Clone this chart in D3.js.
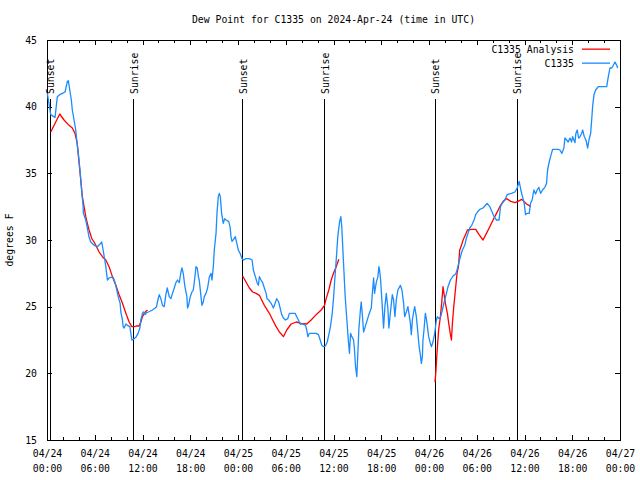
<!DOCTYPE html>
<html><head><meta charset="utf-8">
<script src="https://cdn.jsdelivr.net/npm/d3@7"></script>
<style>
body{margin:0;background:#fff;}
text{font-family:"DejaVu Sans Mono","Liberation Mono",monospace;font-size:9.8px;fill:#000;}
</style></head>
<body><svg id="c" width="640" height="480"></svg>
<script>
// ---- data (hours after 2024-04-24 00:00 UTC, dew point °F) ----
const title = "Dew Point for C1335 on 2024-Apr-24 (time in UTC)";
const yLabel = "degrees F";
const seriesNames = ["C1335 Analysis", "C1335"];
const yTicks = [15,20,25,30,35,40,45];
const sunsetHours = [0.42, 24.58, 48.78];
const sunriseHours = [10.91, 34.88, 59.08];

const blueHours = [0.04,0.47,1.01,1.30,1.60,1.93,2.27,2.56,2.68,2.90,3.06,3.18,3.40,3.61,3.74,3.94,4.07,4.24,4.37,4.53,4.57,4.87,5.07,5.29,5.50,5.92,6.33,6.76,6.88,7.05,7.26,7.39,7.51,7.59,7.80,8.02,8.31,8.56,8.77,8.97,9.19,9.28,9.48,9.57,9.69,9.91,10.11,10.41,10.54,10.66,10.86,11.16,11.45,11.67,11.79,12.00,12.12,12.34,12.50,12.75,13.25,13.59,13.76,13.93,14.10,14.31,14.51,14.73,14.94,15.11,15.36,15.57,15.77,15.99,16.20,16.40,16.62,16.83,16.96,17.12,17.33,17.58,17.66,17.79,18.00,18.21,18.38,18.54,18.72,18.88,19.04,19.13,19.35,19.47,19.64,19.76,19.98,20.18,20.39,20.61,20.73,20.90,21.02,21.24,21.36,21.52,21.65,21.78,21.94,22.15,22.32,22.49,22.82,23.00,23.12,23.25,23.45,23.66,23.83,24.04,24.26,24.51,24.71,25.01,25.43,25.77,25.93,26.18,26.40,26.56,26.69,26.90,27.10,27.31,27.53,27.65,27.86,28.16,28.45,28.66,28.86,29.11,29.29,29.49,29.71,29.96,30.25,30.46,30.80,31.18,31.38,31.59,31.81,32.14,32.48,32.64,32.77,32.98,33.39,33.82,34.11,34.33,34.53,34.74,34.99,35.21,35.41,35.62,35.84,36.00,36.16,36.34,36.54,36.76,36.92,37.04,37.26,37.47,37.68,37.89,38.01,38.14,38.30,38.52,38.64,38.77,38.93,39.06,39.18,39.36,39.48,39.61,39.78,39.99,40.19,40.44,40.75,40.87,41.04,41.16,41.37,41.58,41.70,41.79,41.92,42.13,42.29,42.46,42.63,42.83,42.96,43.14,43.39,43.55,43.72,43.89,44.09,44.40,44.60,44.81,44.94,45.15,45.35,45.48,45.66,45.78,45.91,46.07,46.20,46.41,46.61,46.74,46.91,47.04,47.17,47.24,47.37,47.54,47.67,47.80,47.96,48.17,48.30,48.50,48.71,48.80,48.93,49.05,49.25,49.47,49.68,49.97,50.19,50.39,50.69,51.02,51.36,51.52,51.73,51.95,52.20,52.49,52.70,52.90,53.12,53.37,53.66,53.87,54.09,54.38,54.79,55.01,55.30,55.64,55.93,56.18,56.48,56.81,56.98,57.19,57.53,57.82,58.37,58.79,59.08,59.33,59.54,59.75,59.96,60.13,60.33,60.59,60.76,60.96,61.18,61.39,61.59,61.80,62.02,62.27,62.56,62.77,62.90,63.10,63.32,63.53,63.82,64.23,64.45,64.70,64.95,65.08,65.29,65.49,65.71,65.92,66.05,66.21,66.34,66.46,66.63,66.80,66.97,67.18,67.31,67.51,67.72,67.94,68.10,68.31,68.44,68.56,68.73,68.94,69.27,69.90,70.33,70.53,70.74,70.95,71.16,71.37,71.59,71.71];
const blueValues = [41.0,39.4,39.2,40.75,40.9,41.0,41.1,41.9,41.95,41.1,40.5,39.75,39.0,38.25,37.5,36.5,35.7,34.6,33.6,32.6,32.0,31.5,30.9,30.2,29.85,29.6,29.5,29.75,29.85,29.25,28.5,28.0,27.4,27.0,27.15,27.2,27.2,26.8,26.25,25.7,25.25,24.6,24.0,23.5,23.4,23.7,23.6,23.5,23.0,22.5,22.55,22.7,23.0,23.4,24.0,24.5,24.6,24.4,24.55,24.6,24.75,24.9,25.0,25.5,25.9,25.6,25.1,25.0,25.9,26.4,25.75,25.6,26.0,26.4,26.8,27.0,26.8,27.6,27.9,27.5,26.5,25.75,24.9,25.1,25.75,26.1,26.25,27.0,28.0,27.9,27.2,27.0,25.75,25.1,25.35,25.75,26.0,26.4,27.2,27.5,27.0,28.0,29.25,30.5,32.0,33.25,33.5,33.25,32.0,31.25,31.6,31.5,31.4,31.0,30.25,29.9,30.05,30.25,29.8,29.25,29.0,28.6,28.5,28.6,28.6,28.5,27.75,27.25,26.8,26.6,27.25,27.0,26.8,26.4,26.0,25.6,25.5,25.25,24.9,25.25,25.6,25.35,24.9,24.4,24.15,24.0,24.1,24.5,24.5,24.5,24.25,24.0,23.7,23.7,23.6,23.25,22.75,23.0,23.0,23.0,22.9,22.5,22.1,22.0,22.05,22.35,22.9,23.5,24.5,25.6,27.0,28.5,30.25,31.35,31.75,31.0,28.25,25.75,24.0,22.25,21.5,23.0,22.75,22.5,21.75,20.5,19.75,21.5,23.25,24.6,25.35,24.5,23.1,23.5,23.9,24.4,24.9,25.9,27.15,26.0,26.8,27.25,28.0,27.75,27.0,25.0,23.4,25.0,26.0,24.9,23.4,24.5,25.9,25.5,24.25,25.5,26.25,26.6,26.25,25.25,24.25,24.6,25.0,24.5,23.75,22.9,24.0,24.6,25.0,24.25,23.0,22.1,21.4,20.75,21.25,22.5,23.25,24.5,24.1,23.5,22.75,22.25,22.0,22.35,23.0,23.4,24.0,24.25,24.1,24.25,24.75,25.5,26.0,26.5,27.0,27.3,27.45,27.75,28.25,28.75,29.25,29.6,30.15,30.5,30.9,31.1,31.5,31.9,32.1,32.3,32.4,32.55,32.75,32.5,32.1,31.75,31.5,31.5,32.5,32.75,33.0,33.4,33.5,33.6,33.9,34.4,33.75,33.25,32.75,31.9,32.0,32.0,32.75,33.0,33.75,33.45,33.75,33.95,33.5,33.75,33.95,34.25,35.25,35.85,36.35,36.8,36.8,36.8,36.75,36.5,36.9,37.65,37.5,37.35,37.65,37.35,37.75,37.5,37.3,38.0,38.25,37.65,37.75,38.0,38.25,37.75,37.5,36.9,37.5,38.0,39.0,40.0,40.9,41.25,41.5,41.5,41.5,42.25,42.9,42.9,43.1,43.35,43.1,42.9];

const red1Hours = [0.47,1.60,2.14,2.77,3.18,3.52,3.78,4.03,4.24,4.44,4.66,4.87,5.07,5.29,5.63,5.92,6.13,6.55,6.96,7.39,7.80,8.22,8.65,9.06,9.48,9.91,10.32,10.66,10.95,11.24,11.58,11.79,12.00,12.34,12.63];
const red1Values = [38.1,39.45,39.0,38.6,38.4,38.0,37.3,35.8,34.5,33.25,32.5,31.75,31.25,30.75,30.1,29.85,29.6,29.1,28.75,28.5,28.0,27.25,26.6,25.9,25.25,24.5,23.85,23.5,23.5,23.55,23.55,23.85,24.25,24.6,24.75];
const red2Hours = [24.58,25.01,25.43,25.84,26.27,26.69,26.90,27.31,27.94,28.36,28.79,29.20,29.71,30.12,30.68,31.31,31.93,32.64,33.19,33.82,34.45,34.87,35.08,35.41,35.71,36.00,36.34,36.67];
const red2Values = [27.3,26.85,26.4,26.1,26.0,25.85,25.6,25.1,24.5,24.0,23.5,23.1,22.75,23.25,23.7,23.85,23.75,23.7,24.0,24.4,24.75,25.1,25.6,26.25,27.0,27.5,28.0,28.55];
const red3Hours = [48.75,48.84,49.00,49.21,49.43,49.59,49.76,49.88,50.06,50.31,50.48,50.69,50.82,50.94,51.11,51.32,51.52,51.70,51.86,52.08,52.28,52.58,52.83,53.33,53.87,54.29,54.79,55.22,55.64,56.05,56.48,56.90,57.32,57.74,58.28,58.79,59.20,59.63,59.92,60.25,60.55,60.76];
const red3Values = [19.35,19.9,21.5,23.25,24.25,25.25,26.5,26.0,25.25,24.5,23.75,22.9,22.5,23.75,25.0,26.25,27.5,28.0,29.25,29.6,30.0,30.4,30.75,30.8,30.8,30.4,30.0,30.5,31.0,31.5,32.0,32.5,32.9,33.1,32.9,32.8,32.9,33.05,32.9,32.7,32.6,32.5];

// ---- layout ----
const svg = d3.select("#c");
const L = 47, R = 620, T = 40, B = 440;
const t0 = Date.UTC(2024, 3, 24);
const toDate = h => new Date(t0 + h * 3600000);
const x = d3.scaleUtc().domain([toDate(0), toDate(72)]).range([L, R]);
const y = d3.scaleLinear().domain([15, 45]).range([B, T]);
const red = "#ff0000", blue = "#1a8cff";
const LW = 1.3;

svg.append("text").attr("x", (L + R) / 2).attr("y", 23).attr("text-anchor", "middle").text(title);
svg.append("text").attr("transform", `translate(13,${(T + B) / 2}) rotate(-90)`).attr("text-anchor", "middle").text(yLabel);

// axes
const fmtD = d3.utcFormat("%m/%d"), fmtT = d3.utcFormat("%H:%M");
const major = d3.utcHour.every(6).range(toDate(0), toDate(72.01));
const minor = d3.utcHour.every(2).range(toDate(0), toDate(72.01));

function strip(g){ g.select(".domain").remove(); g.selectAll(".tick line").attr("stroke","#000").attr("shape-rendering","crispEdges"); }

svg.append("g").attr("transform", `translate(0,${B})`)
  .call(d3.axisBottom(x).tickValues(minor).tickSize(-3).tickFormat("")).call(strip);
svg.append("g").attr("transform", `translate(0,${T})`)
  .call(d3.axisTop(x).tickValues(minor).tickSize(-3).tickFormat("")).call(strip);
const gx = svg.append("g").attr("transform", `translate(0,${B})`)
  .call(d3.axisBottom(x).tickValues(major).tickSize(-5).tickFormat(d => fmtD(d))).call(strip);
gx.selectAll(".tick text").each(function(d){
  const t = d3.select(this);
  t.text(null).attr("y", null).attr("dy", null).attr("fill","#000");
  t.append("tspan").attr("x", 0).attr("y", 17).text(fmtD(d));
  t.append("tspan").attr("x", 0).attr("y", 32).text(fmtT(d));
});
gx.selectAll("text").style("font-family", '"DejaVu Sans Mono",monospace').style("font-size","9.8px");
svg.append("g").attr("transform", `translate(0,${T})`)
  .call(d3.axisTop(x).tickValues(major).tickSize(-5).tickFormat("")).call(strip);

const gy = svg.append("g").attr("transform", `translate(${L},0)`)
  .call(d3.axisLeft(y).tickValues(yTicks).tickSize(-5).tickPadding(10)).call(strip);
gy.selectAll("text").attr("fill","#000").style("font-family", '"DejaVu Sans Mono",monospace').style("font-size","9.8px");
svg.append("g").attr("transform", `translate(${R},0)`)
  .call(d3.axisRight(y).tickValues(yTicks).tickSize(-5).tickFormat("")).call(strip);

// frame
svg.append("rect").attr("x", L).attr("y", T).attr("width", R - L).attr("height", B - T)
  .attr("fill", "none").attr("stroke", "#000").attr("shape-rendering", "crispEdges");

// sun lines
const sunEvents = sunsetHours.map(h => ({h, label: "Sunset"})).concat(sunriseHours.map(h => ({h, label: "Sunrise"})));
sunEvents.forEach(e => {
  const px = x(toDate(e.h));
  svg.append("line").attr("x1", px).attr("x2", px).attr("y1", B).attr("y2", 99)
    .attr("stroke", "#000").attr("shape-rendering", "crispEdges");
  svg.append("text").attr("transform", `translate(${px + 4},94) rotate(-90)`).text(e.label);
});

// series
const line = d3.line().x(d => x(toDate(d[0]))).y(d => y(d[1]));
const zip = (a, b) => a.map((v, i) => [v, b[i]]);
[[red1Hours, red1Values], [red2Hours, red2Values], [red3Hours, red3Values]].forEach(([h, v]) => {
  svg.append("path").attr("d", line(zip(h, v))).attr("fill", "none").attr("stroke", red)
    .attr("stroke-width", LW).attr("stroke-linejoin", "round");
});
svg.append("path").attr("d", line(zip(blueHours, blueValues))).attr("fill", "none").attr("stroke", blue)
  .attr("stroke-width", LW).attr("stroke-linejoin", "round");

// legend
[[seriesNames[0], red, 49], [seriesNames[1], blue, 63]].forEach(([name, col, ly]) => {
  svg.append("text").attr("x", 574).attr("y", ly + 4).attr("text-anchor", "end").text(name);
  svg.append("rect").attr("x", 582).attr("y", ly - 0.5).attr("width", 28).attr("height", 1.3)
    .attr("fill", col);
});
</script></body></html>
